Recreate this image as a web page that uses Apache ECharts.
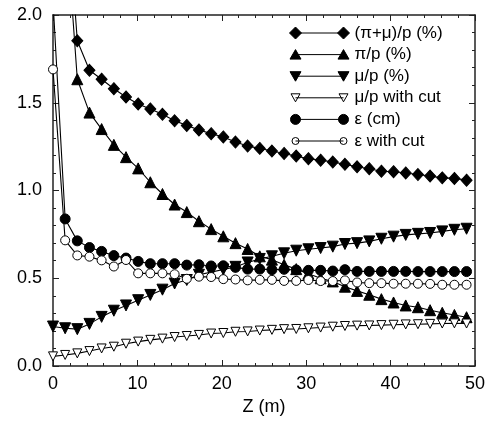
<!DOCTYPE html>
<html>
<head>
<meta charset="utf-8">
<script src="https://cdn.jsdelivr.net/npm/echarts@6/dist/echarts.min.js"></script>
<style>html,body{margin:0;padding:0;background:#fff;}#c{width:491px;height:423px;}</style>
</head>
<body>
<div id="c"></div>
<script>
// Z positions (m)
const zValues = [0, 1.44, 2.88, 4.32, 5.76, 7.21, 8.65, 10.09, 11.53, 12.97, 14.41, 15.85, 17.29, 18.74, 20.18, 21.62, 23.06, 24.5, 25.94, 27.38, 28.82, 30.26, 31.71, 33.15, 34.59, 36.03, 37.47, 38.91, 40.35, 41.79, 43.24, 44.68, 46.12, 47.56, 49.0];
// (pi+mu)/p (%)
const piMu = [4.2, 2.8, 1.853, 1.685, 1.634, 1.58, 1.533, 1.493, 1.465, 1.434, 1.397, 1.371, 1.345, 1.324, 1.305, 1.276, 1.253, 1.24, 1.225, 1.211, 1.196, 1.181, 1.173, 1.162, 1.149, 1.135, 1.124, 1.11, 1.107, 1.10, 1.091, 1.082, 1.072, 1.069, 1.059];
// pi/p (%)
const piP = [4.0, 2.6, 1.634, 1.444, 1.35, 1.26, 1.19, 1.126, 1.047, 0.98, 0.92, 0.877, 0.825, 0.78, 0.739, 0.70, 0.667, 0.625, 0.606, 0.577, 0.552, 0.526, 0.50, 0.482, 0.452, 0.428, 0.406, 0.381, 0.362, 0.345, 0.335, 0.318, 0.303, 0.291, 0.278];
// mu/p (%)
const muP = [0.225, 0.215, 0.21, 0.24, 0.28, 0.315, 0.345, 0.375, 0.405, 0.435, 0.47, 0.49, 0.52, 0.535, 0.55, 0.565, 0.59, 0.61, 0.625, 0.642, 0.657, 0.665, 0.672, 0.68, 0.695, 0.70, 0.71, 0.725, 0.737, 0.747, 0.753, 0.758, 0.767, 0.776, 0.782];
// mu/p with cut
const muCut = [0.055, 0.063, 0.072, 0.085, 0.10, 0.11, 0.127, 0.139, 0.149, 0.156, 0.165, 0.171, 0.177, 0.185, 0.188, 0.195, 0.197, 0.202, 0.206, 0.21, 0.211, 0.215, 0.219, 0.224, 0.228, 0.23, 0.231, 0.233, 0.235, 0.237, 0.238, 0.24, 0.242, 0.243, 0.242];
// epsilon (cm)
const eps = [2.08, 0.838, 0.713, 0.675, 0.653, 0.629, 0.615, 0.596, 0.583, 0.583, 0.583, 0.575, 0.577, 0.57, 0.571, 0.562, 0.552, 0.552, 0.549, 0.551, 0.547, 0.545, 0.545, 0.541, 0.549, 0.539, 0.539, 0.539, 0.539, 0.539, 0.538, 0.538, 0.538, 0.538, 0.538];
// epsilon with cut
const epsCut = [1.69, 0.716, 0.63, 0.623, 0.602, 0.567, 0.604, 0.528, 0.528, 0.528, 0.523, 0.497, 0.509, 0.507, 0.495, 0.493, 0.488, 0.491, 0.491, 0.485, 0.485, 0.49, 0.484, 0.484, 0.488, 0.476, 0.472, 0.472, 0.469, 0.469, 0.469, 0.468, 0.463, 0.463, 0.463];

const seriesNames = ['(\u03c0+\u03bc)/p (%)', '\u03c0/p (%)', '\u03bc/p (%)', '\u03bc/p with cut', '\u03b5 (cm)', '\u03b5 with cut'];
const xTicks = [0, 10, 20, 30, 40, 50];
const yTicks = [0.0, 0.5, 1.0, 1.5, 2.0];

const FONT = '"Liberation Sans", Arial, Helvetica, sans-serif';
const pair = arr => arr.map((v, i) => [zValues[i], v]);

const downTri = 'path://M0,0 L10,0 L5,10 Z';
const BOX = ' M0,0 M60,12';
const icons = [
  'path://M6,6 L54,6 M0,6 L6,0 L12,6 L6,12 Z M48,6 L54,0 L60,6 L54,12 Z' + BOX,
  'path://M6,6 L54,6 M0.5,10.5 L11.5,10.5 L6,1 Z M48.5,10.5 L59.5,10.5 L54,1 Z' + BOX,
  'path://M6,6 L54,6 M0.5,1.5 L11.5,1.5 L6,11 Z M48.5,1.5 L59.5,1.5 L54,11 Z' + BOX,
  'path://M6,6 L54,6 M1.5,2 L10.5,2 L6,10 Z M49.5,2 L58.5,2 L54,10 Z' + BOX,
  'path://M6,6 L54,6 M1,6 A5,5 0 1,0 11,6 A5,5 0 1,0 1,6 Z M49,6 A5,5 0 1,0 59,6 A5,5 0 1,0 49,6 Z' + BOX,
  'path://M6,6 L54,6 M2.5,6 A3.5,3.5 0 1,0 9.5,6 A3.5,3.5 0 1,0 2.5,6 Z M50.5,6 A3.5,3.5 0 1,0 57.5,6 A3.5,3.5 0 1,0 50.5,6 Z' + BOX
];
const fills = ['#000', '#000', '#000', '#fff', '#000', '#fff'];

function mk(name, arr, symbol, size, fill) {
  return {
    name: name, type: 'line', data: pair(arr), xAxisIndex: 0, yAxisIndex: 0,
    symbol: symbol, symbolSize: size, showSymbol: true, clip: true,
    lineStyle: { color: '#000', width: 1.1 },
    itemStyle: { color: fill, borderColor: '#000', borderWidth: 1 },
    emphasis: { disabled: true }, animation: false
  };
}

const chart = echarts.init(document.getElementById('c'), null, { renderer: 'canvas' });
const axisCommon = {
  type: 'value', min: 0, max: 50, interval: 10,
  axisLine: { show: true, onZero: false, lineStyle: { color: '#222', width: 1.5 } },
  axisTick: { show: true, inside: true, length: 6, lineStyle: { color: '#222', width: 1 } },
  minorTick: { show: true, splitNumber: 5, length: 3, lineStyle: { color: '#222', width: 1 } },
  splitLine: { show: false }, minorSplitLine: { show: false }
};
const yCommon = {
  type: 'value', min: 0, max: 2, interval: 0.5,
  axisLine: { show: true, onZero: false, lineStyle: { color: '#222', width: 1.5 } },
  axisTick: { show: true, inside: true, length: 6, lineStyle: { color: '#222', width: 1 } },
  minorTick: { show: true, splitNumber: 5, length: 3, lineStyle: { color: '#222', width: 1 } },
  splitLine: { show: false }, minorSplitLine: { show: false }
};

chart.setOption({
  animation: false,
  backgroundColor: '#fff',
  textStyle: { fontFamily: FONT },
  grid: { left: 53, right: 16, top: 15, bottom: 57, containLabel: false, outerBoundsMode: 'none' },
  legend: {
    orient: 'vertical', left: 284, top: 19.5,
    itemWidth: 60, itemHeight: 12, itemGap: 4.6,
    textStyle: { fontFamily: FONT, fontSize: 17, color: '#000', lineHeight: 17 },
    data: seriesNames.map((n, i) => ({
      name: n, icon: icons[i],
      itemStyle: { color: fills[i], borderColor: '#000', borderWidth: 1 }
    })),
    selectedMode: false
  },
  xAxis: [
    Object.assign({}, axisCommon, {
      position: 'bottom',
      name: 'Z (m)', nameLocation: 'middle', nameGap: 29,
      nameTextStyle: { fontFamily: FONT, fontSize: 18, color: '#000' },
      axisLabel: { show: true, fontFamily: FONT, fontSize: 18, color: '#000', margin: 9,
        formatter: v => (xTicks.indexOf(v) >= 0 ? String(v) : '') }
    }),
    Object.assign({}, axisCommon, { position: 'top', axisLabel: { show: false } })
  ],
  yAxis: [
    Object.assign({}, yCommon, {
      position: 'left',
      axisLabel: { show: true, fontFamily: FONT, fontSize: 18, color: '#000', margin: 11,
        formatter: v => (yTicks.indexOf(v) >= 0 ? v.toFixed(1) : '') }
    }),
    Object.assign({}, yCommon, { position: 'right', axisLabel: { show: false } })
  ],
  series: [
    mk(seriesNames[0], piMu, 'diamond', [11, 12], '#000'),
    mk(seriesNames[1], piP, 'triangle', 11, '#000'),
    mk(seriesNames[2], muP, downTri, 11, '#000'),
    mk(seriesNames[3], muCut, downTri, 9, '#fff'),
    mk(seriesNames[4], eps, 'circle', 10, '#000'),
    mk(seriesNames[5], epsCut, 'circle', 9, '#fff')
  ]
});
</script>
</body>
</html>
